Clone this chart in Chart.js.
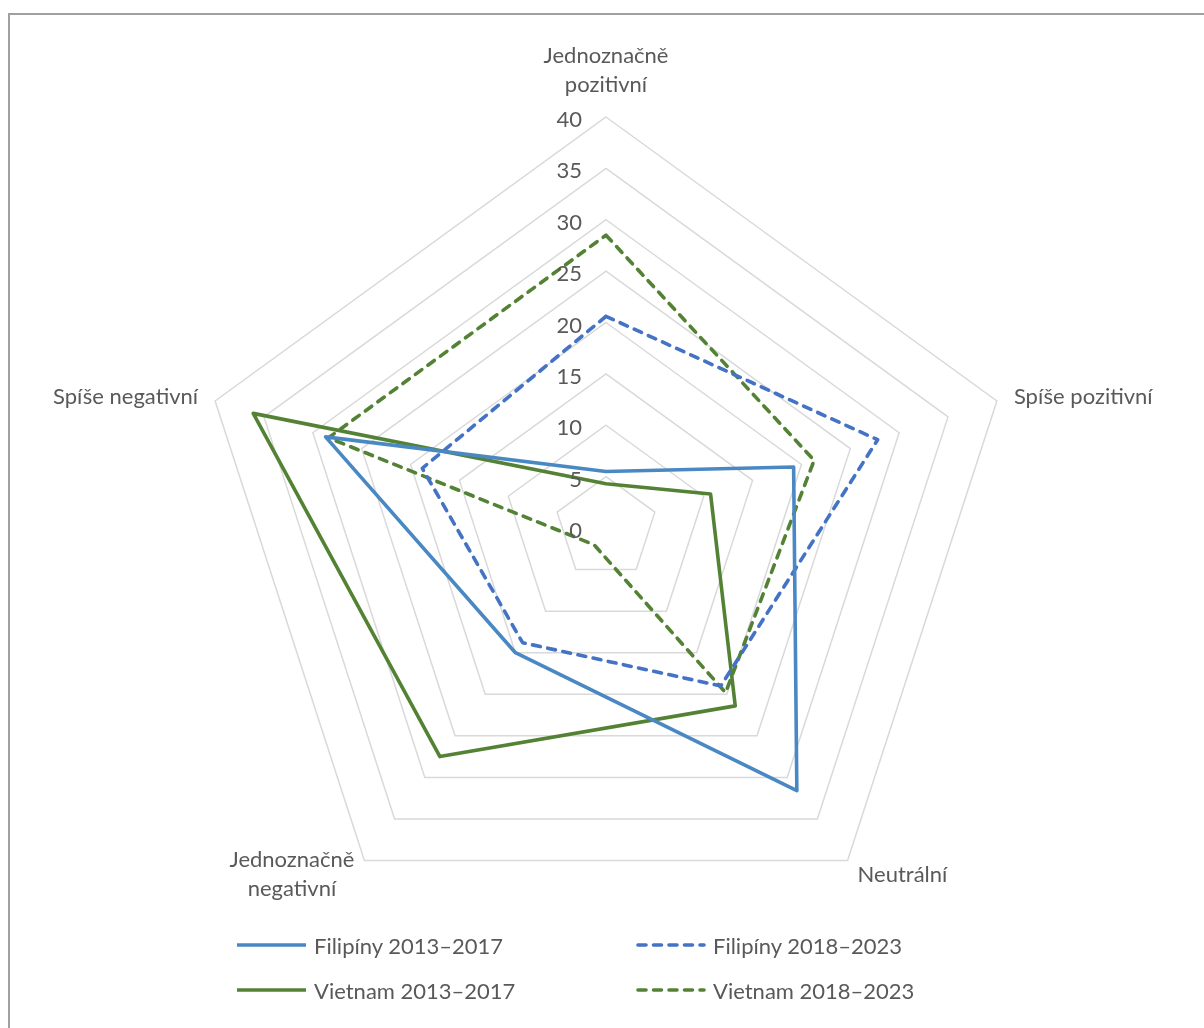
<!DOCTYPE html>
<html lang="cs">
<head>
<meta charset="utf-8">
<script src="https://cdn.jsdelivr.net/npm/chart.js@4.4.1/dist/chart.umd.min.js"></script>
<style>
  html, body { margin: 0; padding: 0; background: #fff; overflow: hidden; }
  #wrap { position: relative; width: 1204px; height: 1028px; }
  #frame { position: absolute; left: 8px; top: 13px; width: 1300px; height: 1100px;
           border-top: 2px solid #a0a0a0; border-left: 2px solid #a0a0a0; }
  #chart { position: absolute; left: 0; top: 0; }
  #legend { position: absolute; left: 0; top: 0; width: 1204px; height: 1028px;
            font-family: Lato, sans-serif; font-size: 22px; color: #595959; pointer-events: none; }
  .item { position: absolute; display: flex; align-items: center; height: 30px; white-space: nowrap; }
  .item svg { display: block; margin-right: 7px; }
</style>
</head>
<body>
<div id="wrap">
  <div id="frame"></div>
  <canvas id="chart" width="1204" height="1028"></canvas>
  <div id="legend"></div>
</div>
<script>
// Categories (axes of the radar), clockwise from the top
const categories = [
  ['Jednoznačně', 'pozitivní'],
  'Spíše pozitivní',
  'Neutrální',
  ['Jednoznačně', 'negativní'],
  'Spíše negativní'
];

// Share of articles by tone, in percent
const filipiny2013 = [5.5, 19.2, 31.6, 15.0, 28.7];
const filipiny2018 = [20.6, 27.8, 19.0, 13.8, 18.8];
const vietnam2013  = [4.3, 10.7, 21.4, 27.5, 36.1];
const vietnam2018  = [28.5, 21.3, 19.8, 2.0, 28.4];

const seriesNames = ['Filipíny 2013–2017', 'Filipíny 2018–2023', 'Vietnam 2013–2017', 'Vietnam 2018–2023'];

// Radial axis range and step
const axisMin = 0;
const axisMax = 40;
const axisStep = 5;

const FONT = 'Lato, sans-serif';
const FONT_SIZE = 22;
const TEXT_COLOR = '#595959';
const DASH = [8, 7.5];

function series(label, data, color, dashed) {
  return {
    label, data,
    borderColor: color,
    backgroundColor: color,
    borderWidth: 3.6,
    borderDash: dashed ? DASH : [],
    borderCapStyle: dashed ? 'round' : 'butt',
    borderJoinStyle: 'round',
    fill: false,
    tension: 0,
    pointRadius: 0,
    pointHoverRadius: 0
  };
}

// Value ticks beside the vertical axis and category names around the outer ring
const radarText = {
  id: 'radarText',
  afterDraw(chart) {
    const scale = chart.scales.r;
    const ctx = chart.ctx;
    ctx.save();
    ctx.fillStyle = TEXT_COLOR;
    ctx.font = FONT_SIZE + 'px ' + FONT;
    ctx.textBaseline = 'middle';

    ctx.textAlign = 'right';
    scale.ticks.forEach(t => {
      const d = scale.getDistanceFromCenterForValue(t.value);
      ctx.fillText(String(t.value), scale.xCenter - 24, scale.yCenter - d + 3);
    });

    ctx.textAlign = 'center';
    const lineH = 29;
    chart.data.labels.forEach((lab, i) => {
      const lines = Array.isArray(lab) ? lab : [lab];
      const p = scale.getPointPosition(i, scale.drawingArea);
      const ang = scale.getIndexAngle(i) - Math.PI / 2;
      const c = Math.cos(ang), s = Math.sin(ang);
      const maxW = Math.max(...lines.map(l => ctx.measureText(l).width));
      const blockH = lineH * (lines.length - 1);
      let cx, cy;
      if (Math.abs(c) < 0.1) {
        cx = p.x;
        cy = p.y - 32 - blockH / 2;
      } else {
        const gap = s < 0 ? 17 : 10;
        cx = c > 0 ? p.x + gap + maxW / 2 : p.x - gap - maxW / 2;
        cy = s < 0 ? p.y - 4 : p.y + 14;
      }
      lines.forEach((l, k) => {
        ctx.fillText(l, cx, cy - blockH / 2 + k * lineH);
      });
    });
    ctx.restore();
  }
};

const chart = new Chart(document.getElementById('chart'), {
  type: 'radar',
  data: {
    labels: categories,
    datasets: [
      series(seriesNames[0], filipiny2013, '#4a88c4', false),
      series(seriesNames[1], filipiny2018, '#4472c4', true),
      series(seriesNames[2], vietnam2013, '#548235', false),
      series(seriesNames[3], vietnam2018, '#548235', true)
    ]
  },
  options: {
    responsive: false,
    devicePixelRatio: 1,
    animation: false,
    layout: { padding: { left: 195, right: 187, top: 117, bottom: 89 } },
    plugins: { legend: { display: false }, tooltip: { enabled: false } },
    scales: {
      r: {
        min: axisMin,
        max: axisMax,
        beginAtZero: true,
        ticks: { display: false, stepSize: axisStep },
        pointLabels: { display: false },
        angleLines: { display: false },
        grid: { circular: false, color: '#d9d9d9', lineWidth: 1.5 }
      }
    }
  },
  plugins: [radarText]
});

// Legend in two columns, built from the datasets
const legend = document.getElementById('legend');
const legendCols = [237, 636];
const legendRows = [945, 990];
chart.data.datasets.forEach((ds, i) => {
  const item = document.createElement('div');
  item.className = 'item';
  item.style.left = legendCols[i % 2] + 'px';
  item.style.top = (legendRows[Math.floor(i / 2)] - 15) + 'px';
  const dash = ds.borderDash.length ? `stroke-dasharray="${ds.borderDash.join(' ')}" stroke-linecap="round"` : '';
  item.innerHTML =
    `<svg width="70" height="8"><line x1="${dash ? 2 : 0}" y1="4" x2="${dash ? 68 : 69}" y2="4" stroke="${ds.borderColor}" stroke-width="${ds.borderWidth}" ${dash}/></svg>` +
    `<span></span>`;
  item.querySelector('span').textContent = ds.label;
  legend.appendChild(item);
});
</script>
</body>
</html>
